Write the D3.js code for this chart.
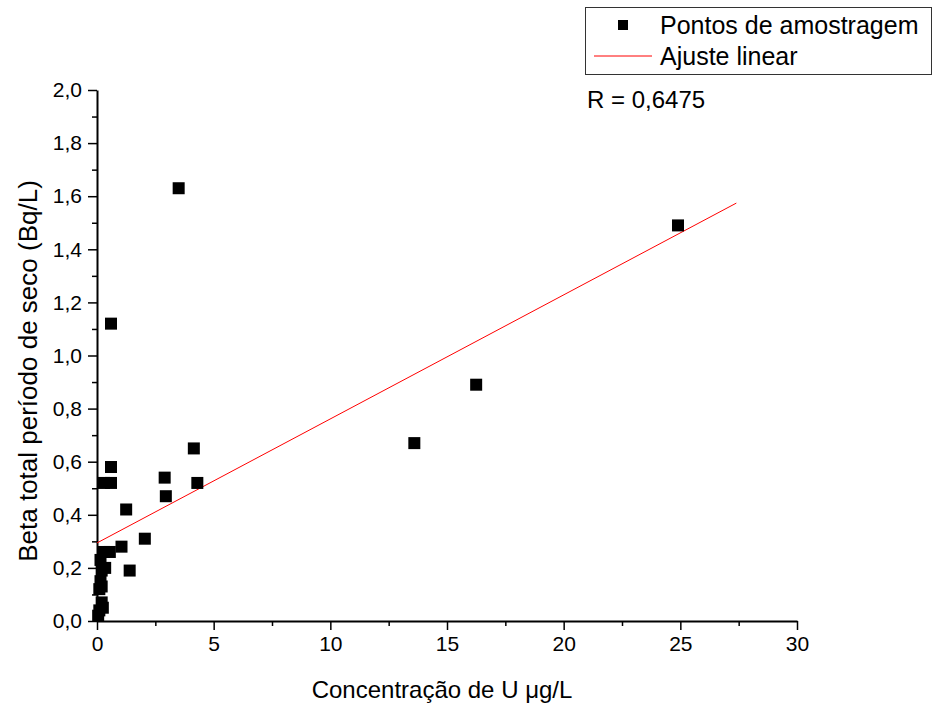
<!DOCTYPE html>
<html>
<head>
<meta charset="utf-8">
<script src="https://cdn.jsdelivr.net/npm/d3@7"></script>
<style>
  body { margin: 0; background: #fff; }
  svg { display: block; font-family: "Liberation Sans", Arial, sans-serif; }
</style>
</head>
<body>
<svg id="chart" width="934" height="706"></svg>
<script>
// sample points
var concU = [0.05, 0.1, 0.25, 0.2, 0.1, 0.2, 0.15, 0.2, 0.35, 0.15, 0.3, 0.55,
             1.05, 1.4, 2.05, 1.25, 2.95, 0.3, 0.6, 4.3, 2.9, 0.6, 4.15,
             13.6, 16.25, 0.6, 3.5, 24.9];
var betaTotal = [0.02, 0.04, 0.05, 0.07, 0.12, 0.13, 0.15, 0.19, 0.20, 0.23, 0.26, 0.26,
                 0.28, 0.19, 0.31, 0.42, 0.47, 0.52, 0.52, 0.52, 0.54, 0.58, 0.65,
                 0.67, 0.89, 1.12, 1.63, 1.49];
// linear fit end points
var fitX = [0, 27.4];
var fitY = [0.294, 1.574];
var xTicks = [0, 5, 10, 15, 20, 25, 30];
var yTicks = [0, 0.2, 0.4, 0.6, 0.8, 1.0, 1.2, 1.4, 1.6, 1.8, 2.0];
var legendLabels = ["Pontos de amostragem", "Ajuste linear"];
var rLabel = "R = 0,6475";

var svg = d3.select("#chart");
var margin = {left: 97, top: 90, right: 137, bottom: 85};
var width = 934 - margin.left - margin.right;
var height = 706 - margin.top - margin.bottom;

var x = d3.scaleLinear().domain([0, 30]).range([0, width]);
var y = d3.scaleLinear().domain([0, 2]).range([height, 0]);
var comma = function(d) { return d3.format(".1f")(d).replace(".", ","); };

var g = svg.append("g")
    .attr("transform", "translate(" + margin.left + "," + margin.top + ")");

// minor ticks
g.append("g")
    .attr("transform", "translate(0," + height + ")")
    .call(d3.axisBottom(x).tickValues(d3.range(2.5, 30, 5)).tickSize(5).tickFormat(""))
    .call(function(a) { a.select(".domain").remove(); a.selectAll("line").attr("stroke-width", 1.5); });
g.append("g")
    .call(d3.axisLeft(y).tickValues(d3.range(0.1, 2, 0.2)).tickSize(5).tickFormat(""))
    .call(function(a) { a.select(".domain").remove(); a.selectAll("line").attr("stroke-width", 1.5); });

var xAxis = g.append("g")
    .attr("transform", "translate(0," + height + ")")
    .call(d3.axisBottom(x).tickValues(xTicks).tickSize(9).tickSizeOuter(0).tickPadding(6));
var yAxis = g.append("g")
    .call(d3.axisLeft(y).tickValues(yTicks).tickSize(9).tickSizeOuter(0).tickPadding(6).tickFormat(comma));

[xAxis, yAxis].forEach(function(a) {
    a.select(".domain").attr("stroke-width", 2);
    a.selectAll(".tick line").attr("stroke-width", 1.5);
    a.selectAll("text").attr("font-size", 21).attr("font-family", "Liberation Sans, Arial").attr("fill", "#000");
});

// fit line
g.append("line")
    .attr("x1", x(fitX[0])).attr("y1", y(fitY[0]))
    .attr("x2", x(fitX[1])).attr("y2", y(fitY[1]))
    .attr("stroke", "red").attr("stroke-width", 1);

// points
var sz = 12;
g.selectAll(".pt")
    .data(concU.map(function(d, i) { return [d, betaTotal[i]]; }))
    .enter().append("rect")
    .attr("class", "pt")
    .attr("x", function(d) { return x(d[0]) - sz / 2; })
    .attr("y", function(d) { return y(d[1]) - sz / 2; })
    .attr("width", sz).attr("height", sz)
    .attr("fill", "#000");

// axis titles
svg.append("text")
    .attr("x", 442).attr("y", 698)
    .attr("text-anchor", "middle").attr("font-size", 24)
    .text("Concentração de U μg/L");
svg.append("text")
    .attr("transform", "translate(37,371) rotate(-90)")
    .attr("text-anchor", "middle").attr("font-size", 26)
    .text("Beta total período de seco (Bq/L)");

svg.append("text")
    .attr("x", 587).attr("y", 108).attr("font-size", 24)
    .text(rLabel);

// legend
var lg = svg.append("g");
lg.append("rect")
    .attr("x", 585.5).attr("y", 7.5).attr("width", 346).attr("height", 67)
    .attr("fill", "#fff").attr("stroke", "#333").attr("stroke-width", 1);
lg.append("rect")
    .attr("x", 618).attr("y", 20).attr("width", 10).attr("height", 10).attr("fill", "#000");
lg.append("line")
    .attr("x1", 594).attr("x2", 652).attr("y1", 56).attr("y2", 56)
    .attr("stroke", "red").attr("stroke-width", 1);
lg.selectAll(".lt")
    .data(legendLabels)
    .enter().append("text")
    .attr("x", 660).attr("y", function(d, i) { return 34 + i * 31; })
    .attr("font-size", 25)
    .text(function(d) { return d; });
</script>
</body>
</html>
